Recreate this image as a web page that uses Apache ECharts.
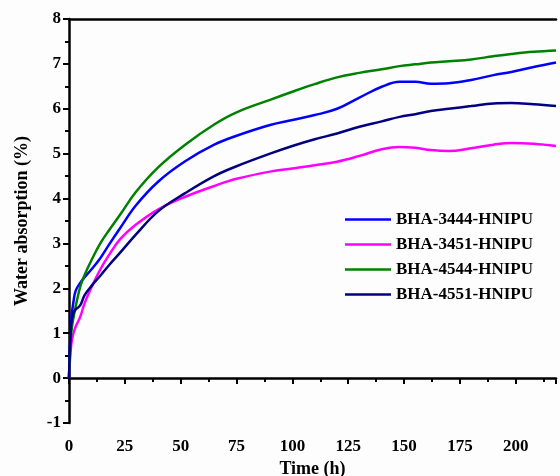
<!DOCTYPE html>
<html>
<head>
<meta charset="utf-8">
<script src="https://cdn.jsdelivr.net/npm/echarts@6/dist/echarts.min.js"></script>
<style>
  html, body { margin: 0; padding: 0; background: #fff; }
  #chart { width: 560px; height: 476px; }
</style>
</head>
<body>
<div id="chart"></div>
<script>
// time points (h)
const times = [0, 1, 2, 3, 5, 7, 10, 14, 18, 23, 30, 40, 52, 65, 75, 90, 100, 110, 120, 130, 140, 148, 155, 162, 170, 180, 190, 198, 208, 218];

// water absorption (%) of each sample
const bha3444 = [0, 1.3, 1.7, 1.95, 2.12, 2.25, 2.42, 2.67, 2.98, 3.35, 3.85, 4.38, 4.83, 5.2, 5.4, 5.64, 5.75, 5.86, 6.0, 6.25, 6.49, 6.6, 6.6, 6.56, 6.57, 6.64, 6.75, 6.82, 6.93, 7.03];
const bha3451 = [0, 0.75, 1.0, 1.15, 1.36, 1.67, 2.02, 2.42, 2.75, 3.1, 3.42, 3.76, 4.04, 4.28, 4.44, 4.6, 4.67, 4.74, 4.82, 4.95, 5.1, 5.15, 5.13, 5.08, 5.06, 5.12, 5.2, 5.24, 5.22, 5.17];
const bha4544 = [0, 1.0, 1.35, 1.6, 2.03, 2.3, 2.62, 3.0, 3.3, 3.65, 4.15, 4.7, 5.2, 5.65, 5.92, 6.2, 6.38, 6.55, 6.7, 6.8, 6.88, 6.95, 6.99, 7.03, 7.06, 7.1, 7.17, 7.22, 7.27, 7.3];
const bha4551 = [0, 1.2, 1.45, 1.53, 1.62, 1.85, 2.05, 2.28, 2.52, 2.8, 3.2, 3.72, 4.12, 4.5, 4.72, 5.0, 5.17, 5.32, 5.45, 5.6, 5.72, 5.82, 5.88, 5.95, 6.0, 6.06, 6.12, 6.13, 6.1, 6.06];

const seriesList = [
  { name: "BHA-3444-HNIPU", data: bha3444, color: "#0000ff" },
  { name: "BHA-3451-HNIPU", data: bha3451, color: "#ff00ff" },
  { name: "BHA-4544-HNIPU", data: bha4544, color: "#008000" },
  { name: "BHA-4551-HNIPU", data: bha4551, color: "#000080" },
];

const font = "'Liberation Serif', 'Times New Roman', serif";
const axisLine = { lineStyle: { color: "#000", width: 2.5 } };

const chart = echarts.init(document.getElementById("chart"));
chart.setOption({
  backgroundColor: "#fdfdfd",
  animation: false,
  grid: { left: 69, right: 4, top: 19, bottom: 53, containLabel: false, outerBoundsMode: "none" },
  legend: {
    orient: "vertical",
    left: 340,
    top: 206,
    itemWidth: 46,
    itemHeight: 10,
    itemGap: 8,
    icon: "path://M0,4 L46,4 L46,6.5 L0,6.5 Z",
    textStyle: { fontFamily: font, fontWeight: "bold", fontSize: 17, color: "#000" },
    data: seriesList.map((s) => s.name),
  },
  xAxis: [
    {
      type: "value",
      min: 0,
      max: 218,
      interval: 25,
      name: "Time (h)",
      nameLocation: "middle",
      nameGap: 36,
      nameTextStyle: { fontFamily: font, fontWeight: "bold", fontSize: 18, color: "#000" },
      axisLine: axisLine,
      axisTick: { inside: false, length: 6, lineStyle: { width: 2, color: "#000" } },
      minorTick: { show: true, splitNumber: 2, length: 4, lineStyle: { width: 2, color: "#000" } },
      axisLabel: { fontFamily: font, fontWeight: "bold", fontSize: 17, color: "#000", margin: 15, showMaxLabel: false },
      splitLine: { show: false },
    },
    {
      type: "value",
      position: "top",
      min: 0,
      max: 218,
      axisLine: axisLine,
      axisTick: { show: false },
      axisLabel: { show: false },
      splitLine: { show: false },
    },
  ],
  yAxis: {
    type: "value",
    min: -1,
    max: 8,
    interval: 1,
    name: "Water absorption (%)",
    nameLocation: "middle",
    nameGap: 38,
    nameTextStyle: { fontFamily: font, fontWeight: "bold", fontSize: 18, color: "#000" },
    axisLine: { show: true, lineStyle: { color: "#000", width: 2.5 } },
    axisTick: { show: true, length: 6, lineStyle: { width: 2, color: "#000" } },
    minorTick: { show: true, splitNumber: 2, length: 4, lineStyle: { width: 2, color: "#000" } },
    axisLabel: { fontFamily: font, fontWeight: "bold", fontSize: 17, color: "#000", margin: 8 },
    splitLine: { show: false },
  },
  series: seriesList.map((s) => ({
    name: s.name,
    type: "line",
    xAxisIndex: 0,
    smooth: 0.4,
    showSymbol: false,
    data: times.map((t, i) => [t, s.data[i]]),
    itemStyle: { color: s.color },
    lineStyle: { color: s.color, width: 2.5 },
  })),
});
</script>
</body>
</html>
